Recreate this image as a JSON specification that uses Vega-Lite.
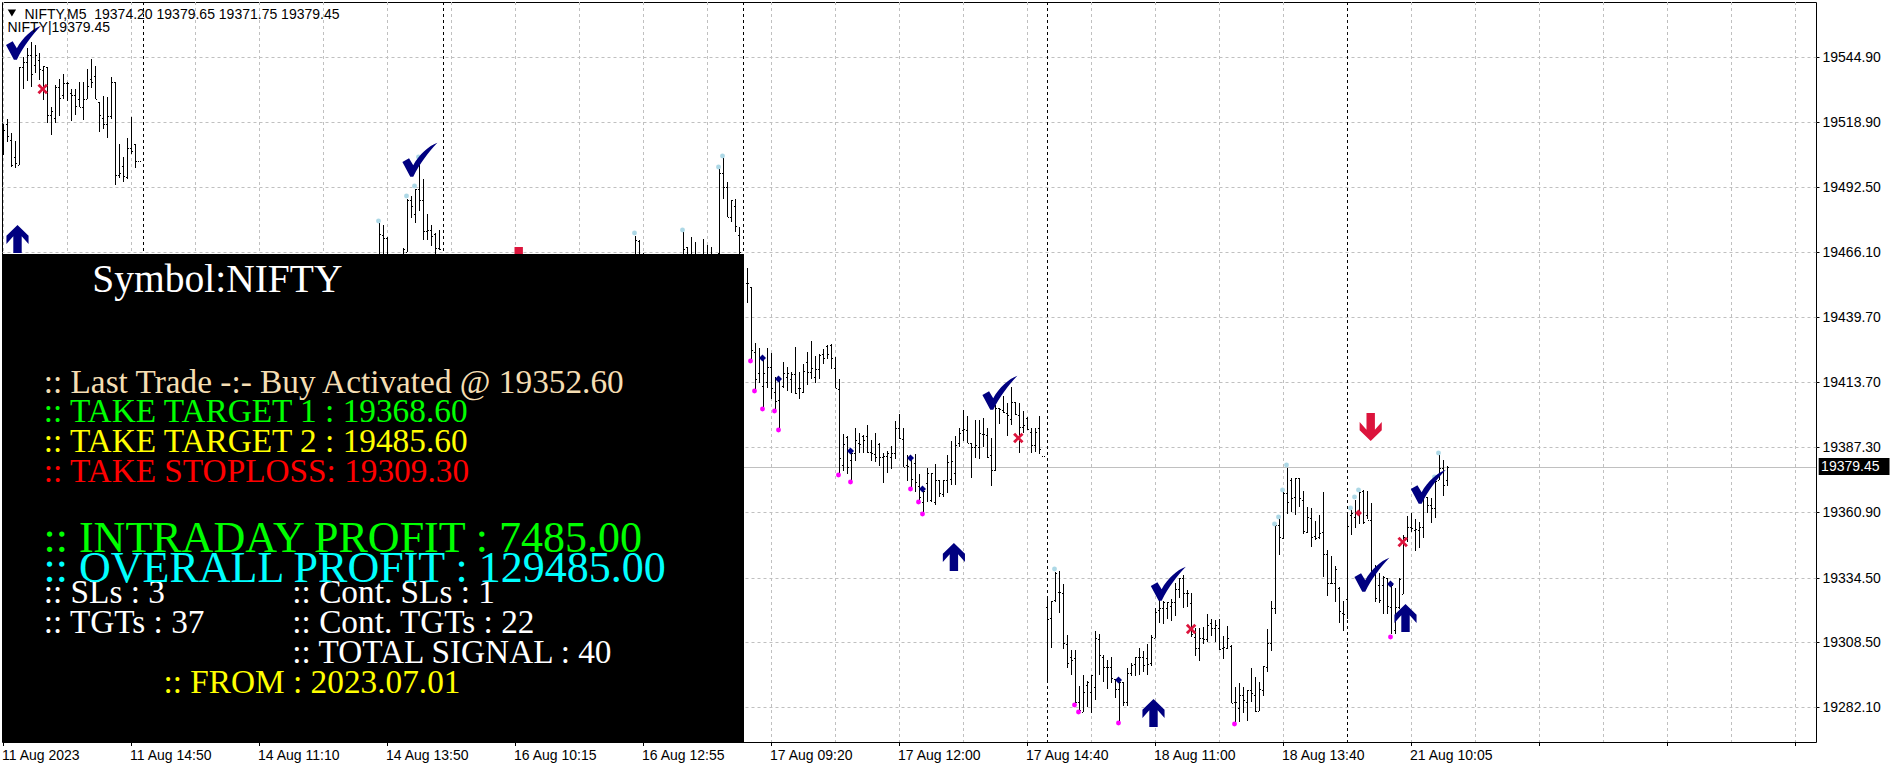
{"$schema":"https://vega.github.io/schema/vega-lite/v6.json","autosize":{"type":"none"},"padding":{"left":2,"top":2,"right":80,"bottom":27},"width":1814,"height":740,"background":"white","view":{"stroke":"black","strokeWidth":1,"fill":"white"},"config":{"font":"Liberation Sans"},
"datasets":{
"bars":[
{"b":0,"o":19517.6,"h":19517.9,"l":19505.2,"c":19515.6},{"b":1,"o":19517.9,"h":19519.9,"l":19510.8,"c":19512.9},{"b":2,"o":19511.5,"h":19514.2,"l":19500.7,"c":19501.4},{"b":3,"o":19504.5,"h":19511.1,"l":19500.1,"c":19502.1},{"b":4,"o":19501.4,"h":19540.9,"l":19501.4,"c":19540.9},{"b":5,"o":19540.9,"h":19545.2,"l":19532,"c":19542.9},{"b":6,"o":19542.9,"h":19548.6,"l":19535.5,"c":19545.9},{"b":7,"o":19545.9,"h":19551,"l":19532.8,"c":19538.2},{"b":8,"o":19541.8,"h":19549.9,"l":19538.5,"c":19545.9},{"b":9,"o":19543.9,"h":19546.6,"l":19535.8,"c":19540.1},{"b":10,"o":19539.6,"h":19541.4,"l":19527.7,"c":19541.4},{"b":11,"o":19540.9,"h":19540.9,"l":19518.3,"c":19521.6},{"b":12,"o":19521.6,"h":19524.7,"l":19513.5,"c":19523},{"b":13,"o":19520.3,"h":19533.8,"l":19518.3,"c":19532.8},{"b":14,"o":19532.8,"h":19536,"l":19521,"c":19528.4},{"b":15,"o":19529.7,"h":19538.2,"l":19528,"c":19534.4},{"b":16,"o":19534.4,"h":19535.1,"l":19527.4,"c":19534.4},{"b":17,"o":19530.4,"h":19532,"l":19519.3,"c":19529.7},{"b":18,"o":19529.7,"h":19532,"l":19521.6,"c":19525.3},{"b":19,"o":19528,"h":19534.8,"l":19524.7,"c":19525},{"b":20,"o":19525,"h":19535.1,"l":19519.6,"c":19528},{"b":21,"o":19528,"h":19540.1,"l":19528,"c":19533.1},{"b":22,"o":19536,"h":19544.1,"l":19532.4,"c":19535.1},{"b":23,"o":19537.4,"h":19541.4,"l":19528,"c":19528},{"b":24,"o":19527,"h":19527,"l":19514.9,"c":19521.6},{"b":25,"o":19520.3,"h":19529.3,"l":19515.8,"c":19518},{"b":26,"o":19517.9,"h":19529,"l":19512.1,"c":19521.2},{"b":27,"o":19521.2,"h":19536.9,"l":19519.9,"c":19535.1},{"b":28,"o":19534.8,"h":19535.1,"l":19493.3,"c":19497.4},{"b":29,"o":19497.4,"h":19509.9,"l":19496,"c":19498},{"b":30,"o":19501,"h":19504.5,"l":19494.3,"c":19497},{"b":31,"o":19496.7,"h":19512.2,"l":19495.6,"c":19508.1},{"b":32,"o":19508.1,"h":19520.7,"l":19505.9,"c":19507.2},{"b":33,"o":19509.8,"h":19509.8,"l":19500.1,"c":19502.8},{"b":34,"o":19502.9,"h":19502.9,"l":19502.9,"c":19502.9},
{"b":94,"o":19456,"h":19477.9,"l":19450,"c":19473.5},{"b":95,"o":19473.2,"h":19477.3,"l":19450,"c":19471.9},{"b":96,"o":19471.9,"h":19472.3,"l":19450,"c":19460},{"b":100,"o":19460,"h":19467.8,"l":19450,"c":19467.4},{"b":101,"o":19466.1,"h":19487.6,"l":19466.1,"c":19487.4},{"b":102,"o":19487.4,"h":19489,"l":19479.8,"c":19484.7},{"b":103,"o":19481.7,"h":19491.7,"l":19477.9,"c":19491.7},{"b":104,"o":19491.7,"h":19503.5,"l":19482.7,"c":19487.4},{"b":105,"o":19487.1,"h":19495.5,"l":19470.9,"c":19474.6},{"b":106,"o":19474.6,"h":19481.7,"l":19470.9,"c":19475.2},{"b":107,"o":19475.2,"h":19477.3,"l":19468.5,"c":19472.5},{"b":108,"o":19473.6,"h":19473.9,"l":19465,"c":19467.8},{"b":109,"o":19467.8,"h":19475.2,"l":19466.9,"c":19467.4},
{"b":158,"o":19460,"h":19472.8,"l":19450,"c":19471.2},{"b":159,"o":19470.8,"h":19471.2,"l":19450,"c":19460},{"b":160,"o":19460,"h":19465.8,"l":19450,"c":19460},{"b":170,"o":19460,"h":19474.2,"l":19450,"c":19467.2},{"b":171,"o":19468.2,"h":19468.2,"l":19450,"c":19460},{"b":172,"o":19460,"h":19472.3,"l":19450,"c":19460},{"b":173,"o":19460,"h":19470.4,"l":19450,"c":19460},{"b":175,"o":19460,"h":19471.6,"l":19450,"c":19460},{"b":176,"o":19460,"h":19469.2,"l":19450,"c":19460},{"b":177,"o":19460,"h":19468.2,"l":19450,"c":19460},{"b":179,"o":19465.8,"h":19499.8,"l":19465,"c":19498.2},{"b":180,"o":19498.2,"h":19504.2,"l":19487.6,"c":19492.4},{"b":181,"o":19492.4,"h":19494.5,"l":19480.4,"c":19480.4},{"b":182,"o":19480.4,"h":19487.4,"l":19478.2,"c":19487.1},{"b":183,"o":19484.9,"h":19487.6,"l":19474.2,"c":19476.6},{"b":184,"o":19473.2,"h":19476.3,"l":19465.5,"c":19466},
{"b":186,"o":19453.5,"h":19459.6,"l":19445.7,"c":19453.8},{"b":187,"o":19451.9,"h":19451.9,"l":19422.5,"c":19426.5},{"b":188,"o":19425.9,"h":19429.5,"l":19410.4,"c":19414.7},{"b":189,"o":19417.1,"h":19427.2,"l":19413.3,"c":19423.2},{"b":190,"o":19412,"h":19423.9,"l":19403,"c":19417.4},{"b":191,"o":19413.7,"h":19427.2,"l":19411,"c":19419.8},{"b":192,"o":19419.8,"h":19425.5,"l":19406.7,"c":19411},{"b":193,"o":19409.7,"h":19415.8,"l":19402.3,"c":19406},{"b":194,"o":19406.3,"h":19415.5,"l":19394.5,"c":19414.7},{"b":195,"o":19412,"h":19421.6,"l":19411,"c":19417.1},{"b":196,"o":19415.5,"h":19419.8,"l":19410.1,"c":19417.1},{"b":197,"o":19415,"h":19417.8,"l":19409,"c":19416.7},{"b":198,"o":19416.7,"h":19427.6,"l":19408.8,"c":19409},{"b":199,"o":19411,"h":19417.5,"l":19406.6,"c":19411},{"b":200,"o":19409.7,"h":19420.8,"l":19409.3,"c":19418},{"b":201,"o":19421.9,"h":19425.9,"l":19412.4,"c":19417.8},{"b":202,"o":19417.8,"h":19430.2,"l":19415,"c":19419.1},{"b":203,"o":19415.8,"h":19424.1,"l":19413.3,"c":19418.9},{"b":204,"o":19418.9,"h":19424.8,"l":19415,"c":19424.6},{"b":205,"o":19424.8,"h":19426.8,"l":19420.9,"c":19423.2},{"b":206,"o":19428.2,"h":19428.6,"l":19422.8,"c":19424.8},{"b":207,"o":19428.6,"h":19429,"l":19418.9,"c":19423.2},{"b":208,"o":19419.1,"h":19423.9,"l":19411,"c":19411},{"b":209,"o":19410.6,"h":19415,"l":19376.7,"c":19382.7},
{"b":210,"o":19380.1,"h":19392.6,"l":19377.8,"c":19388.4},{"b":211,"o":19391.2,"h":19391.8,"l":19376.4,"c":19379.1},{"b":212,"o":19382.1,"h":19385.4,"l":19373.3,"c":19385},{"b":213,"o":19384.8,"h":19395.2,"l":19381.8,"c":19390.2},{"b":214,"o":19389.1,"h":19393.1,"l":19385,"c":19388.5},{"b":215,"o":19391.9,"h":19392.2,"l":19385,"c":19390.2},{"b":216,"o":19391.9,"h":19396.2,"l":19384.8,"c":19385.4},{"b":217,"o":19385.4,"h":19390.2,"l":19381.7,"c":19385},{"b":218,"o":19384.5,"h":19392.9,"l":19381.4,"c":19383.4},{"b":219,"o":19388.5,"h":19389.1,"l":19379.6,"c":19383.4},{"b":220,"o":19383.4,"h":19385,"l":19372.9,"c":19383.7},{"b":221,"o":19383.7,"h":19385.9,"l":19377,"c":19384.8},{"b":222,"o":19383.1,"h":19387.9,"l":19378.5,"c":19384.8},{"b":223,"o":19384.8,"h":19397.9,"l":19382.5,"c":19395.2},{"b":224,"o":19394.9,"h":19400.6,"l":19390.4,"c":19390.8},{"b":225,"o":19390.4,"h":19395.2,"l":19379.1,"c":19379.1},{"b":226,"o":19380.1,"h":19384.1,"l":19373.7,"c":19379.6},{"b":227,"o":19382.1,"h":19382.5,"l":19370.6,"c":19374.6},{"b":228,"o":19380.7,"h":19384.4,"l":19369.2,"c":19373},{"b":229,"o":19371.6,"h":19376.3,"l":19365.6,"c":19367.2},{"b":230,"o":19365.2,"h":19369.9,"l":19360.5,"c":19369.6},
{"b":231,"o":19372.6,"h":19378.7,"l":19365,"c":19377},{"b":232,"o":19365.9,"h":19376.7,"l":19365.2,"c":19376.7},{"b":233,"o":19365.2,"h":19380.3,"l":19363.9,"c":19374},{"b":234,"o":19374,"h":19374,"l":19367.2,"c":19368.6},{"b":235,"o":19368.3,"h":19374,"l":19367,"c":19374},{"b":236,"o":19374,"h":19384.1,"l":19368.6,"c":19381.4},{"b":237,"o":19374.4,"h":19389.9,"l":19372,"c":19381.8},{"b":238,"o":19377,"h":19391.8,"l":19372,"c":19388.1},{"b":239,"o":19388.8,"h":19394.9,"l":19387.5,"c":19392.9},{"b":240,"o":19394.2,"h":19402.3,"l":19389.9,"c":19394.5},{"b":241,"o":19394.2,"h":19399.9,"l":19388.8,"c":19388.8},{"b":242,"o":19388.8,"h":19388.8,"l":19374.7,"c":19387.5},{"b":243,"o":19387.5,"h":19398.3,"l":19382.7,"c":19388.1},{"b":244,"o":19387.5,"h":19398.3,"l":19382.3,"c":19393.1},{"b":245,"o":19392.6,"h":19399.2,"l":19387.5,"c":19392.6},{"b":246,"o":19392.2,"h":19395.2,"l":19382.7,"c":19383.4},{"b":247,"o":19384.1,"h":19390.8,"l":19371.7,"c":19378},{"b":248,"o":19378,"h":19404.3,"l":19377.8,"c":19403},{"b":249,"o":19403,"h":19403,"l":19396.6,"c":19402.6},{"b":250,"o":19402.3,"h":19408,"l":19400.9,"c":19401.4},{"b":251,"o":19400.9,"h":19405.3,"l":19391.8,"c":19400.3},{"b":252,"o":19398.5,"h":19411.5,"l":19396.2,"c":19405.7},{"b":253,"o":19405.7,"h":19405.7,"l":19400.3,"c":19400.5},{"b":254,"o":19400.3,"h":19405,"l":19385,"c":19395.6},{"b":255,"o":19395.6,"h":19401.9,"l":19392.9,"c":19396.2},{"b":256,"o":19398.9,"h":19399.6,"l":19394.2,"c":19394.5},{"b":257,"o":19393.5,"h":19394.9,"l":19385,"c":19388.1},{"b":258,"o":19388.1,"h":19394.9,"l":19385.4,"c":19393.5},{"b":259,"o":19394.9,"h":19399.9,"l":19384.5,"c":19386.4},{"b":260,"o":19383.8,"h":19383.8,"l":19383.8,"c":19383.8},
{"b":261,"o":19322.8,"h":19327.1,"l":19292.1,"c":19317.7},{"b":262,"o":19318.1,"h":19325.1,"l":19306.2,"c":19325.1},{"b":263,"o":19325.5,"h":19337,"l":19324.8,"c":19336.3},{"b":264,"o":19328.9,"h":19337.2,"l":19320.1,"c":19328.9},{"b":265,"o":19328.2,"h":19332,"l":19305.7,"c":19308},{"b":266,"o":19307.7,"h":19311.3,"l":19298.1,"c":19299.9},{"b":267,"o":19302.5,"h":19305.3,"l":19295.2,"c":19301.2},{"b":268,"o":19301.9,"h":19305.3,"l":19283.7,"c":19284.4},{"b":269,"o":19284.4,"h":19290.8,"l":19279.9,"c":19281},{"b":270,"o":19280.3,"h":19295.2,"l":19280.3,"c":19288.4},{"b":271,"o":19291,"h":19292.8,"l":19282.3,"c":19292.4},{"b":272,"o":19288.4,"h":19295.2,"l":19279.9,"c":19295.2},{"b":273,"o":19290.4,"h":19313,"l":19285,"c":19310},{"b":274,"o":19309.6,"h":19311.6,"l":19295.2,"c":19303.2},{"b":275,"o":19302.5,"h":19303.2,"l":19292.4,"c":19298.5},{"b":276,"o":19298.2,"h":19301.2,"l":19289.7,"c":19298.5},{"b":277,"o":19298.5,"h":19302.3,"l":19291.8,"c":19294},{"b":278,"o":19293.4,"h":19293.4,"l":19285.7,"c":19289.3},{"b":279,"o":19289.3,"h":19293.1,"l":19276.2,"c":19292.4},{"b":280,"o":19292.4,"h":19292.4,"l":19282.6,"c":19284.4},{"b":281,"o":19284.4,"h":19298.1,"l":19282.6,"c":19295.8},{"b":282,"o":19295.8,"h":19299.9,"l":19294.7,"c":19299.2},{"b":283,"o":19299.6,"h":19302.3,"l":19294.7,"c":19302.3},{"b":284,"o":19302.3,"h":19305.9,"l":19295.2,"c":19302.5},{"b":285,"o":19302.5,"h":19304.9,"l":19296.5,"c":19299.2},{"b":286,"o":19301.9,"h":19307.7,"l":19295.2,"c":19299.6},{"b":287,"o":19299.9,"h":19311.3,"l":19298.8,"c":19310.4},{"b":288,"o":19310,"h":19322.1,"l":19310,"c":19320.7},{"b":289,"o":19321.4,"h":19326.9,"l":19316,"c":19322.1},{"b":290,"o":19322.1,"h":19325.2,"l":19315.8,"c":19324.8},{"b":291,"o":19322.1,"h":19324.8,"l":19317.7,"c":19324.8},{"b":292,"o":19323,"h":19325.8,"l":19317.1,"c":19324.8},{"b":293,"o":19324.8,"h":19332.5,"l":19319,"c":19329.8},{"b":294,"o":19329.8,"h":19334.2,"l":19326.1,"c":19334.2},{"b":295,"o":19334.2,"h":19335.6,"l":19322.1,"c":19328.4},{"b":296,"o":19328.2,"h":19329.5,"l":19322.5,"c":19328.2},{"b":297,"o":19324.4,"h":19328.2,"l":19310.6,"c":19311.7},{"b":298,"o":19310.4,"h":19314,"l":19303,"c":19305.9},{"b":299,"o":19305.9,"h":19314,"l":19300.8,"c":19310},{"b":300,"o":19310,"h":19314.7,"l":19307.5,"c":19309.6},{"b":301,"o":19309.6,"h":19319.8,"l":19308.6,"c":19315.4},{"b":302,"o":19316,"h":19317.7,"l":19310.9,"c":19314},{"b":303,"o":19314,"h":19317.4,"l":19308.6,"c":19315.4},{"b":304,"o":19314,"h":19317.8,"l":19305.3,"c":19305.5},{"b":305,"o":19305.9,"h":19310.9,"l":19301.6,"c":19306.3},{"b":306,"o":19305.9,"h":19315,"l":19305.5,"c":19310},{"b":307,"o":19306.9,"h":19307.3,"l":19284,"c":19284},
{"b":308,"o":19284.4,"h":19290.2,"l":19275.9,"c":19284.4},{"b":309,"o":19281.7,"h":19292,"l":19276.3,"c":19287.1},{"b":310,"o":19287.1,"h":19290.4,"l":19279.9,"c":19285},{"b":311,"o":19284.4,"h":19289,"l":19276.7,"c":19289},{"b":312,"o":19289,"h":19297.8,"l":19284.4,"c":19287.7},{"b":313,"o":19287.1,"h":19294.5,"l":19280.3,"c":19280.7},{"b":314,"o":19280.7,"h":19292.4,"l":19280.7,"c":19289.7},{"b":315,"o":19289,"h":19298.8,"l":19286.6,"c":19298.8},{"b":316,"o":19298.5,"h":19313.6,"l":19296.5,"c":19307.9},{"b":317,"o":19307.9,"h":19325,"l":19305,"c":19322.1},{"b":318,"o":19322.1,"h":19356.5,"l":19319.8,"c":19355.8},{"b":319,"o":19355.8,"h":19359.2,"l":19343.7,"c":19350.8},{"b":320,"o":19350.4,"h":19369.7,"l":19350,"c":19368.6},{"b":321,"o":19368.6,"h":19379,"l":19360.1,"c":19365.2},{"b":322,"o":19374,"h":19374.9,"l":19361.2,"c":19366.6},{"b":323,"o":19367,"h":19375,"l":19359.9,"c":19374.7},{"b":324,"o":19374.7,"h":19375,"l":19363.2,"c":19366.6},{"b":325,"o":19365.9,"h":19369.7,"l":19352,"c":19353.4},{"b":326,"o":19353.1,"h":19362.9,"l":19352.4,"c":19359.2},{"b":327,"o":19358.5,"h":19362.6,"l":19347,"c":19351.1},{"b":328,"o":19351.4,"h":19357.6,"l":19349.7,"c":19350.4},{"b":329,"o":19351.1,"h":19359.9,"l":19350,"c":19352.4},
{"b":330,"o":19353.1,"h":19369,"l":19334.9,"c":19344},{"b":331,"o":19344,"h":19345.7,"l":19327.2,"c":19332.4},{"b":332,"o":19332.4,"h":19343.2,"l":19331.9,"c":19332.4},{"b":333,"o":19332.2,"h":19339.3,"l":19324.8,"c":19338.2},{"b":334,"o":19330.2,"h":19330.6,"l":19316.3,"c":19321},{"b":335,"o":19320.3,"h":19325.2,"l":19313,"c":19320},{"b":336,"o":19325.7,"h":19361.2,"l":19318,"c":19355.4},{"b":337,"o":19359.8,"h":19361.8,"l":19351.7,"c":19360.5},{"b":338,"o":19359.1,"h":19365.9,"l":19354.4,"c":19361.2},{"b":339,"o":19361.2,"h":19369.2,"l":19356.2,"c":19369.2},{"b":340,"o":19369.7,"h":19369.9,"l":19356.2,"c":19357.1},{"b":341,"o":19359.8,"h":19369.7,"l":19358.1,"c":19357.8},{"b":342,"o":19357.8,"h":19364.8,"l":19336.2,"c":19336.9},{"b":343,"o":19336.9,"h":19339.6,"l":19324.8,"c":19326.1},{"b":344,"o":19331.5,"h":19336.2,"l":19324.4,"c":19325.4},{"b":345,"o":19331.5,"h":19335.1,"l":19320,"c":19334.9},{"b":346,"o":19334.2,"h":19334.2,"l":19319.8,"c":19323},{"b":347,"o":19322.7,"h":19331.5,"l":19311.7,"c":19331.5},{"b":348,"o":19313.3,"h":19330.2,"l":19311.7,"c":19322.7},{"b":349,"o":19322.7,"h":19334.2,"l":19321.7,"c":19333.8},{"b":350,"o":19328.1,"h":19351.7,"l":19327.9,"c":19350.8},{"b":351,"o":19350.4,"h":19359.5,"l":19349,"c":19355.1},{"b":352,"o":19354.8,"h":19360.5,"l":19353.1,"c":19354.4},{"b":353,"o":19353.7,"h":19358.2,"l":19345.4,"c":19354.2},{"b":354,"o":19353.7,"h":19357.1,"l":19346.6,"c":19354.8},{"b":355,"o":19354.8,"h":19368.6,"l":19350.4,"c":19367.9},{"b":356,"o":19367.2,"h":19367.2,"l":19360.8,"c":19363.9},{"b":357,"o":19363.9,"h":19366.6,"l":19356.7,"c":19362.5},{"b":358,"o":19362.5,"h":19374.6,"l":19358.5,"c":19373.7},{"b":359,"o":19374.2,"h":19384.1,"l":19374,"c":19378.7},{"b":360,"o":19378.7,"h":19382.1,"l":19367.5,"c":19371.9},{"b":361,"o":19374.2,"h":19379.65,"l":19371.75,"c":19379.45}
],
"periods":[{"b":35},{"b":110},{"b":185},{"b":261},{"b":336}],
"lowDots":[{"b":187,"p":19422.0},{"b":188,"p":19409.8},{"b":190,"p":19402.6},{"b":193,"p":19401.8},{"b":194,"p":19394.1},{"b":209,"p":19375.9},{"b":212,"p":19373.0},{"b":227,"p":19370.2},{"b":229,"p":19365},{"b":230,"p":19360.1},{"b":268,"p":19282.9},{"b":269,"p":19280.1},{"b":279,"p":19275.6},{"b":308,"p":19275.2},{"b":347,"p":19310.4}],
"highDots":[{"b":94,"p":19478.7},{"b":101,"p":19488.9},{"b":103,"p":19492.9},{"b":104,"p":19504.6},{"b":158,"p":19473.9},{"b":170,"p":19475.1},{"b":179,"p":19500.6},{"b":180,"p":19505.0},{"b":263,"p":19337.9},{"b":318,"p":19356.1},{"b":319,"p":19358.9},{"b":320,"p":19369.8},{"b":321,"p":19380.1},{"b":337,"p":19362.7},{"b":338,"p":19367.0},{"b":339,"p":19369.8},{"b":358,"p":19375.1},{"b":359,"p":19384.8}],
"entries":[{"b":190,"p":19423.2},{"b":194,"p":19414.7},{"b":212,"p":19385.6},{"b":227,"p":19382.7},{"b":230,"p":19370.2},{"b":279,"p":19293.0},{"b":347,"p":19331.8}],
"checks":[{"b":5,"p":19550.5},{"b":104.1,"p":19503.4},{"b":249.1,"p":19409.3},{"b":291.2,"p":19332.0},{"b":342.1,"p":19335.6},{"b":356.2,"p":19371.3}],
"upArrows":[{"b":3.5,"p":19471.4},{"b":237.6,"p":19342.8},{"b":287.5,"p":19279.9},{"b":350.5,"p":19318.1}],
"downArrows":[{"b":341.8,"p":19395.5},{"b":128.8,"p":19462.5}],
"stops":[{"b":9.8,"p":19532.0},{"b":253.7,"p":19390.9},{"b":296.9,"p":19313.8},{"b":349.8,"p":19348.9}],
"sellEntries":[{"b":339,"p":19360.7}],
"last":[{"b":-0.375,"b2":453.125,"p":19379.45}],
"lastBox":[{"b":453.8,"b2":471.5,"p":19382.9,"p2":19376.0}],
"lastText":[{"b":454.4,"p":19379.45,"t":"19379.45"}],
"panel":[{"b":-0.375,"b2":185.125,"p":19465.4,"p2":19268.07}],
"header":[{"b":5.25,"p":19560.4,"t":"NIFTY,M5\u00a0\u00a019374.20 19379.65 19371.75 19379.45"},{"b":1,"p":19555.1,"t":"NIFTY|19379.45"}],
"headerMark":[{"b":2.1,"p":19562.8}],
"panelTitle":[{"b":22.2,"p":19449.9,"t":"Symbol:NIFTY","g":"info"}],
"panelLines":[{"b":10.05,"p":19409.3,"t":":: Last Trade -:- Buy Activated @ 19352.60","g":"last"},{"b":10.05,"p":19397.3,"t":":: TAKE TARGET 1 : 19368.60","g":"target1"},{"b":10.05,"p":19385.2,"t":":: TAKE TARGET 2 : 19485.60","g":"target2"},{"b":10.05,"p":19373.1,"t":":: TAKE STOPLOSS: 19309.30","g":"stop"},{"b":10.05,"p":19324.4,"t":":: SLs : 3","g":"info"},{"b":72.2,"p":19324.4,"t":":: Cont. SLs : 1","g":"info"},{"b":10.05,"p":19312.3,"t":":: TGTs : 37","g":"info"},{"b":72.2,"p":19312.3,"t":":: Cont. TGTs : 22","g":"info"},{"b":72.2,"p":19300.1,"t":":: TOTAL SIGNAL : 40","g":"info"},{"b":40,"p":19288.0,"t":":: FROM : 2023.07.01","g":"target2"}],
"panelBig":[{"b":10,"p":19345.0,"t":":: INTRADAY PROFIT : 7485.00","g":"target1"},{"b":10,"p":19332.9,"t":":: OVERALL PROFIT : 129485.00","g":"overall"}]
},
"encoding":{
"x":{"field":"b","type":"quantitative","title":null,"scale":{"domain":[-0.375,453.125],"nice":false,"zero":false},"axis":{"values":[0,16,32,48,64,80,96,112,128,144,160,176,192,208,224,240,256,272,288,304,320,336,352,368,384,400,416,432,448],"title":null,"translate":0,"tickRound":false,"grid":true,"gridColor":"#c0c0c0","gridDash":[3,3],"gridWidth":1,"domain":false,"tickColor":"black","tickSize":4,"tickOpacity":{"condition":{"test":"datum.value % 32 === 0","value":1},"value":0},"labelExpr":"({'0':'11 Aug 2023','32':'11 Aug 14:50','64':'14 Aug 11:10','96':'14 Aug 13:50','128':'16 Aug 10:15','160':'16 Aug 12:55','192':'17 Aug 09:20','224':'17 Aug 12:00','256':'17 Aug 14:40','288':'18 Aug 11:00','320':'18 Aug 13:40','352':'21 Aug 10:05'})[datum.value] || ''","labelAlign":"left","labelPadding":3,"labelOffset":-1.5,"labelOverlap":false,"labelBound":false,"labelFlush":false,"labelFont":"Liberation Sans","labelFontSize":14,"labelColor":"black"}},
"y":{"field":"p","type":"quantitative","title":null,"scale":{"domain":[19268.07,19567.26],"nice":false,"zero":false,"round":true},"axis":{"orient":"right","values":[19282.1,19308.5,19334.5,19360.9,19387.3,19413.7,19439.7,19466.1,19492.5,19518.9,19544.9],"format":".2f","title":null,"grid":true,"gridColor":"#c0c0c0","gridDash":[3,3],"gridWidth":1,"domain":false,"tickColor":"black","tickSize":3,"labelPadding":3,"labelOverlap":false,"labelBound":false,"labelFlush":false,"labelFont":"Liberation Sans","labelFontSize":14,"labelColor":"black"}}
},
"layer":[
{"data":{"name":"last"},"mark":{"type":"rule","color":"#c0c0c0","strokeWidth":1,"yOffset":0.5},"encoding":{"x2":{"field":"b2"}}},
{"data":{"name":"periods"},"mark":{"type":"rule","color":"black","strokeWidth":1,"strokeDash":[3,3]},"encoding":{"y":{"value":0},"y2":{"value":740}}},
{"data":{"name":"bars"},"mark":{"type":"rule","color":"black","strokeWidth":1},"encoding":{"y":{"field":"h","type":"quantitative","title":null},"y2":{"field":"l"}}},
{"data":{"name":"bars"},"mark":{"type":"tick","orient":"horizontal","size":1,"thickness":1,"xOffset":-1,"yOffset":0.5,"color":"black","opacity":1},"encoding":{"y":{"field":"o","type":"quantitative","title":null}}},
{"data":{"name":"bars"},"mark":{"type":"tick","orient":"horizontal","size":1,"thickness":1,"xOffset":1,"yOffset":0.5,"color":"black","opacity":1},"encoding":{"y":{"field":"c","type":"quantitative","title":null}}},
{"data":{"name":"lowDots"},"mark":{"type":"circle","color":"#FF00FF","size":24,"opacity":1,"xOffset":-1}},
{"data":{"name":"highDots"},"mark":{"type":"circle","color":"#ADD8E6","size":24,"opacity":1,"xOffset":-1}},
{"data":{"name":"entries"},"mark":{"type":"point","shape":"diamond","filled":true,"color":"#000080","size":49,"opacity":1,"xOffset":-1}},
{"data":{"name":"sellEntries"},"mark":{"type":"point","shape":"diamond","filled":true,"color":"#DC143C","size":49,"opacity":1,"xOffset":-1}},
{"data":{"name":"stops"},"mark":{"type":"point","shape":"M-1,-0.6 L-0.6,-1 L0,-0.35 L0.6,-1 L1,-0.6 L0.35,0 L1,0.6 L0.6,1 L0,0.35 L-0.6,1 L-1,0.6 L-0.35,0 Z","filled":true,"color":"#DC143C","size":110,"opacity":1,"strokeWidth":0}},
{"data":{"name":"checks"},"mark":{"type":"point","shape":"M-1,0.12 L-0.62,-0.1 L-0.38,0.3 C-0.05,-0.3 0.5,-0.8 1,-0.98 C0.5,-0.45 0,0.2 -0.38,0.95 L-0.55,0.95 Z","filled":true,"color":"#000080","size":1225,"opacity":1,"strokeWidth":0}},
{"data":{"name":"upArrows"},"mark":{"type":"point","shape":"M0,-1 L0.79,-0.23 L0.79,0.35 L0.3,-0.19 L0.3,1 L-0.3,1 L-0.3,-0.19 L-0.79,0.35 L-0.79,-0.23 Z","filled":true,"color":"#000080","size":784,"opacity":1,"strokeWidth":0}},
{"data":{"name":"downArrows"},"mark":{"type":"point","shape":"M0,1 L0.79,0.23 L0.79,-0.35 L0.3,0.19 L0.3,-1 L-0.3,-1 L-0.3,0.19 L-0.79,-0.35 L-0.79,0.23 Z","filled":true,"color":"#DC143C","size":784,"opacity":1,"strokeWidth":0}},
{"data":{"name":"panel"},"mark":{"type":"rect","color":"black","opacity":1},"encoding":{"x2":{"field":"b2"},"y2":{"field":"p2"}}},
{"data":{"name":"lastBox"},"mark":{"type":"rect","color":"black","opacity":1},"encoding":{"x2":{"field":"b2"},"y2":{"field":"p2"}}},
{"data":{"name":"lastText"},"mark":{"type":"text","align":"left","baseline":"middle","font":"Liberation Sans","fontSize":14,"color":"white"},"encoding":{"text":{"field":"t"}}},
{"data":{"name":"headerMark"},"mark":{"type":"point","shape":"triangle-down","filled":true,"color":"black","size":70,"opacity":1,"strokeWidth":0}},
{"data":{"name":"header"},"mark":{"type":"text","align":"left","baseline":"alphabetic","font":"Liberation Sans","fontSize":14,"color":"black"},"encoding":{"text":{"field":"t"}}},
{"data":{"name":"panelTitle"},"mark":{"type":"text","align":"left","baseline":"alphabetic","font":"Liberation Serif","fontSize":39.5},"encoding":{"text":{"field":"t"},"color":{"field":"g","type":"nominal","legend":null,"scale":{"domain":["info","last","target1","target2","stop","overall"],"range":["#FFFFFF","#F5DEB3","#00FF00","#FFFF00","#FF0000","#00FFFF"]}}}},
{"data":{"name":"panelLines"},"mark":{"type":"text","align":"left","baseline":"alphabetic","font":"Liberation Serif","fontSize":33.3},"encoding":{"text":{"field":"t"},"color":{"field":"g","type":"nominal","legend":null,"scale":{"domain":["info","last","target1","target2","stop","overall"],"range":["#FFFFFF","#F5DEB3","#00FF00","#FFFF00","#FF0000","#00FFFF"]}}}},
{"data":{"name":"panelBig"},"mark":{"type":"text","align":"left","baseline":"alphabetic","font":"Liberation Serif","fontSize":44},"encoding":{"text":{"field":"t"},"color":{"field":"g","type":"nominal","legend":null,"scale":{"domain":["info","last","target1","target2","stop","overall"],"range":["#FFFFFF","#F5DEB3","#00FF00","#FFFF00","#FF0000","#00FFFF"]}}}}
]}
